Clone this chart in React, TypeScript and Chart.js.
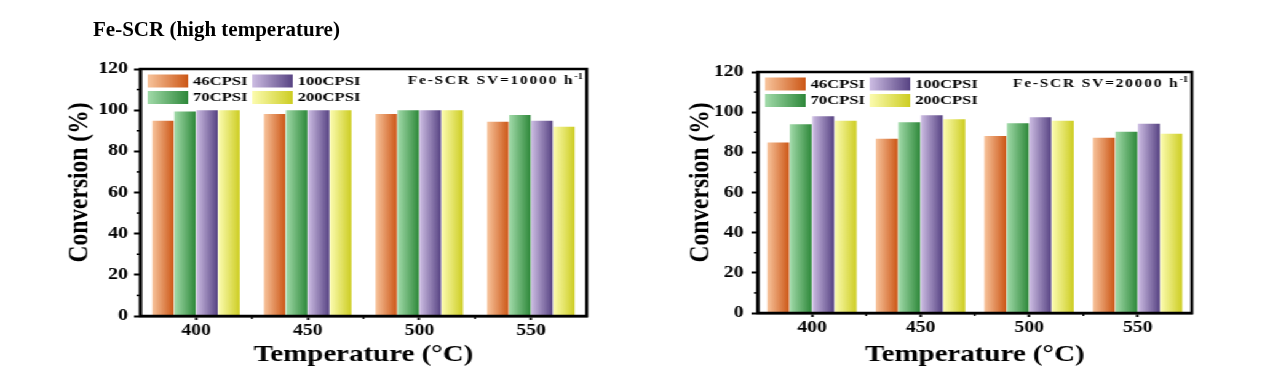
import React, { useEffect, useRef } from 'react';
import { Chart, registerables } from 'chart.js';

Chart.register(...registerables);

// ---------- data ----------
const categories = ['400', '450', '500', '550'];
const seriesNames = ['46CPSI', '70CPSI', '100CPSI', '200CPSI'];

const left46 = [94.8, 98.1, 98.1, 94.4];
const left70 = [99.4, 100, 100, 97.6];
const left100 = [100, 100, 100, 94.8];
const left200 = [100, 100, 100, 91.9];

const right46 = [84.9, 86.8, 88.1, 87.3];
const right70 = [94.0, 95.0, 94.5, 90.2];
const right100 = [98.0, 98.5, 97.5, 94.2];
const right200 = [95.7, 96.5, 95.7, 89.2];

const yMin = 0;
const yMax = 120;
const yStep = 20;

const pageTitle = 'Fe-SCR (high temperature)';
const leftNote = 'Fe-SCR SV=10000 h';
const rightNote = 'Fe-SCR SV=20000 h';
const noteSup = '-1';
const xTitle = 'Temperature (°C)';
const yTitle = 'Conversion (%)';

// light -> dark gradient per series
const palette: [string, string][] = [
  ['#F8C49C', '#CC5716'],
  ['#A2DBAA', '#2E883A'],
  ['#CDBDE3', '#574383'],
  ['#FCFCB0', '#CDCD22'],
];

// ---------- styling ----------
const FONT = "'Times New Roman', 'Liberation Serif', serif";
const SX = 1.23;
const CW = 515;
const CH = 384;

type PanelCfg = {
  values: number[][];
  note: string;
  padTop: number;
  padRight: number;
  yWidth: number;
  xHeight: number;
  catPct: number;
  yTitleX: number;
  tickPad: number;
};

const leftCfg: PanelCfg = {
  values: [left46, left70, left100, left200],
  note: leftNote,
  padTop: 69,
  padRight: 38,
  yWidth: 114,
  xHeight: 68,
  catPct: 0.79,
  yTitleX: 65,
  tickPad: 5,
};

const rightCfg: PanelCfg = {
  values: [right46, right70, right100, right200],
  note: rightNote,
  padTop: 72,
  padRight: 61,
  yWidth: 101,
  xHeight: 71,
  catPct: 0.83,
  yTitleX: 54.5,
  tickPad: 6.5,
};

function makeDecor(cfg: PanelCfg) {
  return {
    id: 'decor',
    beforeDatasetsDraw(chart: any) {
      const ctx = chart.ctx;
      chart.data.datasets.forEach((_ds: any, di: number) => {
        const meta = chart.getDatasetMeta(di);
        meta.data.forEach((el: any) => {
          const { x, width } = el.getProps(['x', 'width'], true);
          const g = ctx.createLinearGradient(x - width / 2, 0, x + width / 2, 0);
          g.addColorStop(0, palette[di][0]);
          g.addColorStop(1, palette[di][1]);
          el.options = { ...el.options, backgroundColor: g };
        });
      });
    },
    afterDraw(chart: any) {
      const { ctx, chartArea: a, scales } = chart;
      ctx.save();
      // frame
      ctx.strokeStyle = '#000';
      ctx.lineWidth = 2.5;
      ctx.strokeRect(a.left, a.top, a.right - a.left, a.bottom - a.top);

      // minor ticks on y
      ctx.lineWidth = 1.5;
      const ys = scales.y;
      for (let v = yMin + yStep / 2; v < yMax; v += yStep) {
        const py = ys.getPixelForValue(v);
        ctx.beginPath();
        ctx.moveTo(a.left - 3, py);
        ctx.lineTo(a.left, py);
        ctx.stroke();
      }
      // minor ticks on x between categories
      const xs = scales.x;
      for (let i = 0; i < categories.length - 1; i++) {
        const px = (xs.getPixelForValue(i) + xs.getPixelForValue(i + 1)) / 2;
        ctx.beginPath();
        ctx.moveTo(px, a.bottom);
        ctx.lineTo(px, a.bottom + 3);
        ctx.stroke();
      }

      // y title
      ctx.fillStyle = '#000';
      ctx.font = `bold 23.5px ${FONT}`;
      ctx.textAlign = 'center';
      ctx.textBaseline = 'middle';
      ctx.translate(cfg.yTitleX, (a.top + a.bottom) / 2 - 10);
      ctx.rotate(-Math.PI / 2);
      ctx.fillText(yTitle, 0, 0);
      ctx.setTransform(1, 0, 0, 1, 0, 0);

      // legend
      const cols = [6, 91];
      const textOff = 37;
      const rows = [5.5, 22];
      ctx.font = `bold 13.5px ${FONT}`;
      ctx.textAlign = 'left';
      ctx.textBaseline = 'middle';
      seriesNames.forEach((name, i) => {
        const col = Math.floor(i / 2);
        const row = i % 2;
        const sx = a.left + cols[col];
        const sy = a.top + rows[row];
        const g = ctx.createLinearGradient(sx, 0, sx + 33, 0);
        g.addColorStop(0, palette[i][0]);
        g.addColorStop(1, palette[i][1]);
        ctx.fillStyle = g;
        ctx.fillRect(sx, sy, 33, 13);
        ctx.fillStyle = '#000';
        ctx.fillText(name, sx + textOff, sy + 7);
      });

      // note
      ctx.textBaseline = 'alphabetic';
      ctx.font = `bold 12.5px ${FONT}`;
      (ctx as any).letterSpacing = '1.5px';
      const w1 = ctx.measureText(cfg.note).width;
      ctx.font = `bold 8.5px ${FONT}`;
      (ctx as any).letterSpacing = '0px';
      const w2 = ctx.measureText(noteSup).width;
      const x0 = a.right - 3 - w1 - w2;
      ctx.font = `bold 12.5px ${FONT}`;
      (ctx as any).letterSpacing = '1.5px';
      ctx.fillText(cfg.note, x0, a.top + 15);
      (ctx as any).letterSpacing = '0px';
      ctx.font = `bold 8.5px ${FONT}`;
      ctx.fillText(noteSup, x0 + w1, a.top + 10);
      ctx.restore();
    },
  };
}

function Panel({ cfg }: { cfg: PanelCfg }) {
  const ref = useRef<HTMLCanvasElement | null>(null);
  useEffect(() => {
    if (!ref.current) return;
    const tickFont = { family: FONT, size: 16, weight: 'bold' as const };
    const chart = new Chart(ref.current, {
      type: 'bar',
      data: {
        labels: categories,
        datasets: seriesNames.map((name, i) => ({
          label: name,
          data: cfg.values[i],
          backgroundColor: palette[i][1],
          borderWidth: 0,
          categoryPercentage: cfg.catPct,
          barPercentage: 0.97,
        })),
      },
      options: {
        responsive: false,
        animation: false,
        devicePixelRatio: 1,
        layout: { padding: { left: 0, right: cfg.padRight, top: cfg.padTop, bottom: 0 } },
        plugins: {
          legend: { display: false },
          tooltip: { enabled: false },
          title: { display: false },
        },
        scales: {
          x: {
            ticks: { color: '#000', font: tickFont, padding: 1 },
            grid: {
              offset: false,
              drawOnChartArea: false,
              drawTicks: true,
              tickLength: 4,
              tickWidth: 2,
              tickColor: '#000',
            },
            border: { display: true, color: '#000', width: 2.5 },
            title: {
              display: true,
              text: xTitle,
              color: '#000',
              font: { family: FONT, size: 23.5, weight: 'bold' },
              padding: { top: 0, bottom: 15 },
            },
            afterFit: (s: any) => {
              s.height = cfg.xHeight;
            },
          },
          y: {
            min: yMin,
            max: yMax,
            ticks: { stepSize: yStep, color: '#000', font: tickFont, padding: cfg.tickPad },
            grid: {
              drawOnChartArea: false,
              drawTicks: true,
              tickLength: 5,
              tickWidth: 2,
              tickColor: '#000',
            },
            border: { display: true, color: '#000', width: 2.5 },
            afterFit: (s: any) => {
              s.width = cfg.yWidth;
            },
          },
        },
      },
      plugins: [makeDecor(cfg)],
    } as any);
    return () => chart.destroy();
  }, [cfg]);
  return (
    <canvas
      ref={ref}
      width={CW}
      height={CH}
      style={{ width: CW, height: CH, display: 'block' }}
    />
  );
}

export default function App() {
  return (
    <div
      style={{
        position: 'absolute',
        left: 0,
        top: 0,
        width: 1267,
        height: 384,
        background: '#fff',
        overflow: 'hidden',
      }}
    >
      <div
        style={{
          position: 'absolute',
          left: 0,
          top: 0,
          width: CW * 2,
          height: CH,
          display: 'flex',
          transform: `scaleX(${SX})`,
          transformOrigin: '0 0',
        }}
      >
        <Panel cfg={leftCfg} />
        <Panel cfg={rightCfg} />
      </div>
      <div
        style={{
          position: 'absolute',
          left: 93,
          top: 19,
          font: `bold 21px ${FONT}`,
          lineHeight: '21px',
          whiteSpace: 'nowrap',
          color: '#000',
        }}
      >
        {pageTitle}
      </div>
    </div>
  );
}
